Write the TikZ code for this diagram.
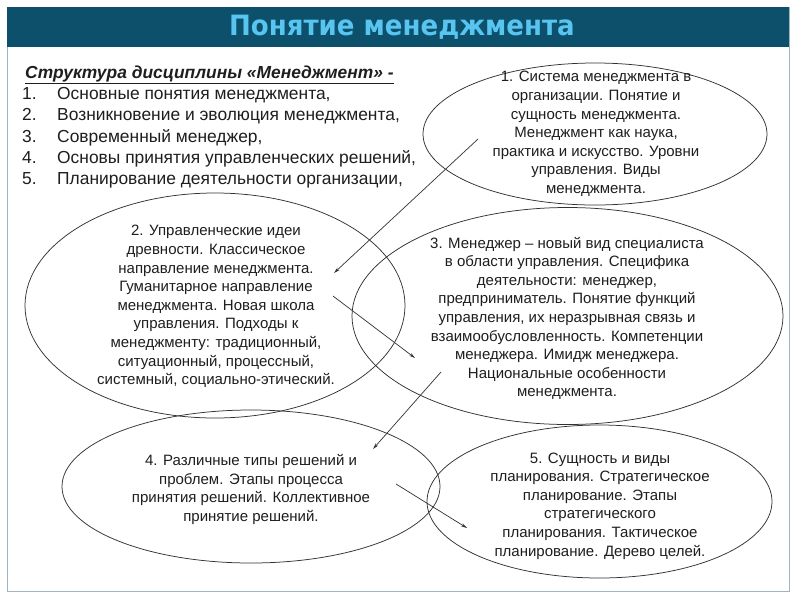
\documentclass[tikz,border=0pt]{standalone}
\usepackage{fontspec}
\setmainfont{Liberation Sans}
\newfontfamily\titlefont{DejaVu Sans}
\usetikzlibrary{shapes.geometric,arrows.meta}
\definecolor{barblue}{RGB}{12,80,108}
\definecolor{titleblue}{RGB}{88,196,240}
\definecolor{framegray}{RGB}{160,180,195}
\definecolor{inkgray}{RGB}{50,50,50}
\definecolor{txt}{RGB}{30,30,30}
\tikzset{
  oval/.style={ellipse, draw=inkgray, line width=0.75pt, inner sep=0pt},
  ovaltext/.style={align=center, font=\fontsize{15}{18.6}\selectfont, text=txt, inner sep=0pt},
  link/.style={draw=inkgray, line width=0.7pt, -{Stealth[length=6pt,width=3.2pt]}},
  listline/.style={anchor=base west, inner sep=0pt, text=txt, font=\fontsize{17.4}{21}\selectfont},
}
\begin{document}
\begin{tikzpicture}[x=1pt,y=-1pt]
\useasboundingbox (0,0) rectangle (800,600);
\fill[white] (0,0) rectangle (800,600);
% frame and title bar
\draw[framegray, line width=1pt] (7,7) rectangle (789,591);
\fill[barblue] (7,7) rectangle (789,47);
\node[text=titleblue, font=\titlefont\bfseries\fontsize{28}{32}\selectfont, inner sep=0pt] (title) at (402,27) {\scalebox{0.93}[1]{Понятие менеджмента}};

% heading and list
\node[listline, font=\fontsize{17.4}{21}\selectfont\bfseries\itshape] (head) at (25,78) {\underline{Структура дисциплины «Менеджмент» -}};
\node[listline] (n1) at (22,99) {1.};
\node[listline] (t1) at (57,99) {Основные понятия менеджмента,};
\node[listline] (n2) at (22,120) {2.};
\node[listline] (t2) at (57,120) {Возникновение и эволюция менеджмента,};
\node[listline] (n3) at (22,142) {3.};
\node[listline] (t3) at (57,142) {Современный менеджер,};
\node[listline] (n4) at (22,163) {4.};
\node[listline] (t4) at (57,163) {Основы принятия управленческих решений,};
\node[listline] (n5) at (22,184) {5.};
\node[listline] (t5) at (57,184) {Планирование деятельности организации,};

% ellipses
\node[oval, minimum width=344pt, minimum height=142pt] (e1) at (595,134) {};
\node[oval, minimum width=380pt, minimum height=225pt] (e2) at (215,305.5) {};
\node[oval, minimum width=431pt, minimum height=217pt] (e3) at (567.5,316) {};
\node[oval, minimum width=378pt, minimum height=153pt] (e4) at (251,486.5) {};
\node[oval, minimum width=345pt, minimum height=153pt] (e5) at (599.5,501.5) {};

% texts
\node[ovaltext] (x1) at (596,134) {1. Система менеджмента в\\организации. Понятие и\\сущность менеджмента.\\Менеджмент как наука,\\практика и искусство. Уровни\\управления. Виды\\менеджмента.};
\node[ovaltext] (x2) at (216,306.5) {2. Управленческие идеи\\древности. Классическое\\направление менеджмента.\\Гуманитарное направление\\менеджмента. Новая школа\\управления. Подходы к\\менеджменту: традиционный,\\ситуационный, процессный,\\системный, социально-этический.};
\node[ovaltext] (x3) at (567,318.5) {3. Менеджер – новый вид специалиста\\в области управления. Специфика\\деятельности: менеджер,\\предприниматель. Понятие функций\\управления, их неразрывная связь и\\взаимообусловленность. Компетенции\\менеджера. Имидж менеджера.\\Национальные особенности\\менеджмента.};
\node[ovaltext] (x4) at (251,489.5) {4. Различные типы решений и\\проблем. Этапы процесса\\принятия решений. Коллективное\\принятие решений.};
\node[ovaltext] (x5) at (600,506) {5. Сущность и виды\\планирования. Стратегическое\\планирование. Этапы\\стратегического\\планирования. Тактическое\\планирование. Дерево целей.};

% connectors
\coordinate (a1s) at (478,139);
\coordinate (a1e) at (334,273);
\coordinate (a2s) at (333,296);
\coordinate (a2e) at (415,358);
\coordinate (a3s) at (441,372);
\coordinate (a3e) at (373,449);
\coordinate (a4s) at (396,484);
\coordinate (a4e) at (467,528);
\draw[link] (a1s) -- (a1e);
\draw[link] (a2s) -- (a2e);
\draw[link] (a3s) -- (a3e);
\draw[link] (a4s) -- (a4e);
\end{tikzpicture}
\end{document}
